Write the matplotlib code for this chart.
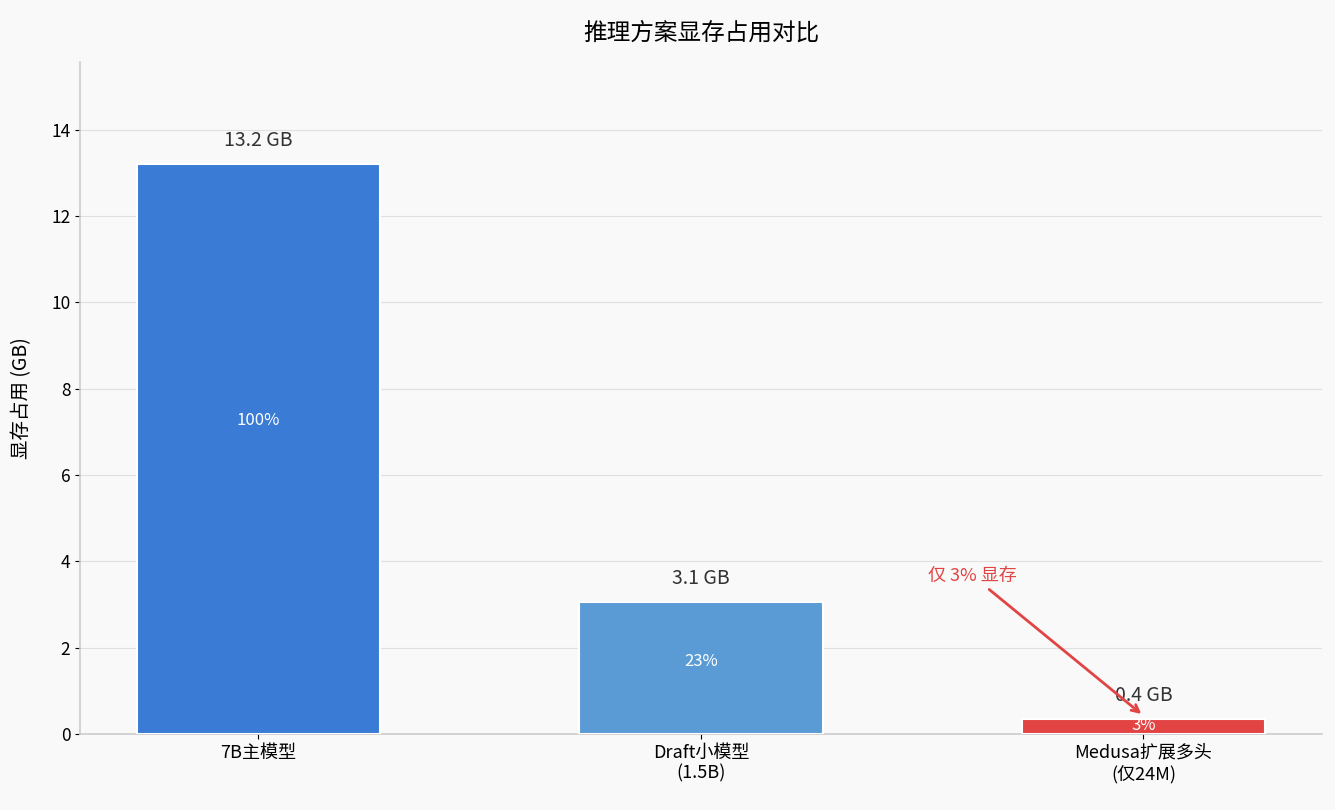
import numpy as np
import matplotlib
matplotlib.use('Agg')
import matplotlib.pyplot as plt

plt.rcParams['font.family'] = ['Noto Sans CJK SC', 'DejaVu Sans']
plt.rcParams['axes.unicode_minus'] = False

# data
categories = ['7B主模型', 'Draft小模型\n(1.5B)', 'Medusa扩展多头\n(仅24M)']
memory_gb = [13.2, 3.06, 0.35]
value_labels = ['13.2 GB', '3.1 GB', '0.4 GB']
pct_labels = ['100%', '23%', '3%']
bar_colors = ['#3a7bd5', '#5a9bd5', '#e24444']

bg = '#f9f9f9'
fig = plt.figure(figsize=(13.35, 8.1), dpi=100)
fig.patch.set_facecolor(bg)
ax = fig.add_axes([0.06, 0.094, 0.93, 0.829])
ax.set_facecolor(bg)

x = np.arange(len(categories))
bars = ax.bar(x, memory_gb, width=0.55, color=bar_colors, edgecolor='white', linewidth=1.5, zorder=3)

for b, vl, pl in zip(bars, value_labels, pct_labels):
    h = b.get_height()
    cx = b.get_x() + b.get_width() / 2
    ax.text(cx, h + 0.3, vl, ha='center', va='bottom', fontsize=14, color='#333333', zorder=4)
    ax.text(cx, h * 0.55, pl, ha='center', va='center', fontsize=12, color='white', zorder=4)

ax.annotate('仅 3% 显存', xy=(2.0, 0.42), xytext=(1.614, 3.66),
            ha='center', va='center', fontsize=13, color='#e24444',
            arrowprops=dict(arrowstyle='->', color='#e24444', lw=2), zorder=5)

ax.set_xticks(x)
ax.set_xticklabels(categories, fontsize=13)
ax.set_ylim(0, 15.56)
ax.set_yticks([0, 2, 4, 6, 8, 10, 12, 14])
ax.tick_params(axis='y', labelsize=12.5)
ax.set_ylabel('显存占用 (GB)', fontsize=14, labelpad=14)
ax.set_title('推理方案显存占用对比', fontsize=17, pad=16, fontweight='medium')

ax.grid(axis='y', color='#e0e0e0', linewidth=0.8, zorder=0)
ax.spines['top'].set_visible(False)
ax.spines['right'].set_visible(False)
ax.spines['left'].set_color('#cccccc')
ax.spines['bottom'].set_color('#cccccc')
ax.spines['left'].set_linewidth(1.2)
ax.spines['bottom'].set_linewidth(1.2)

fig.savefig('out.png', dpi=100, facecolor=bg)
